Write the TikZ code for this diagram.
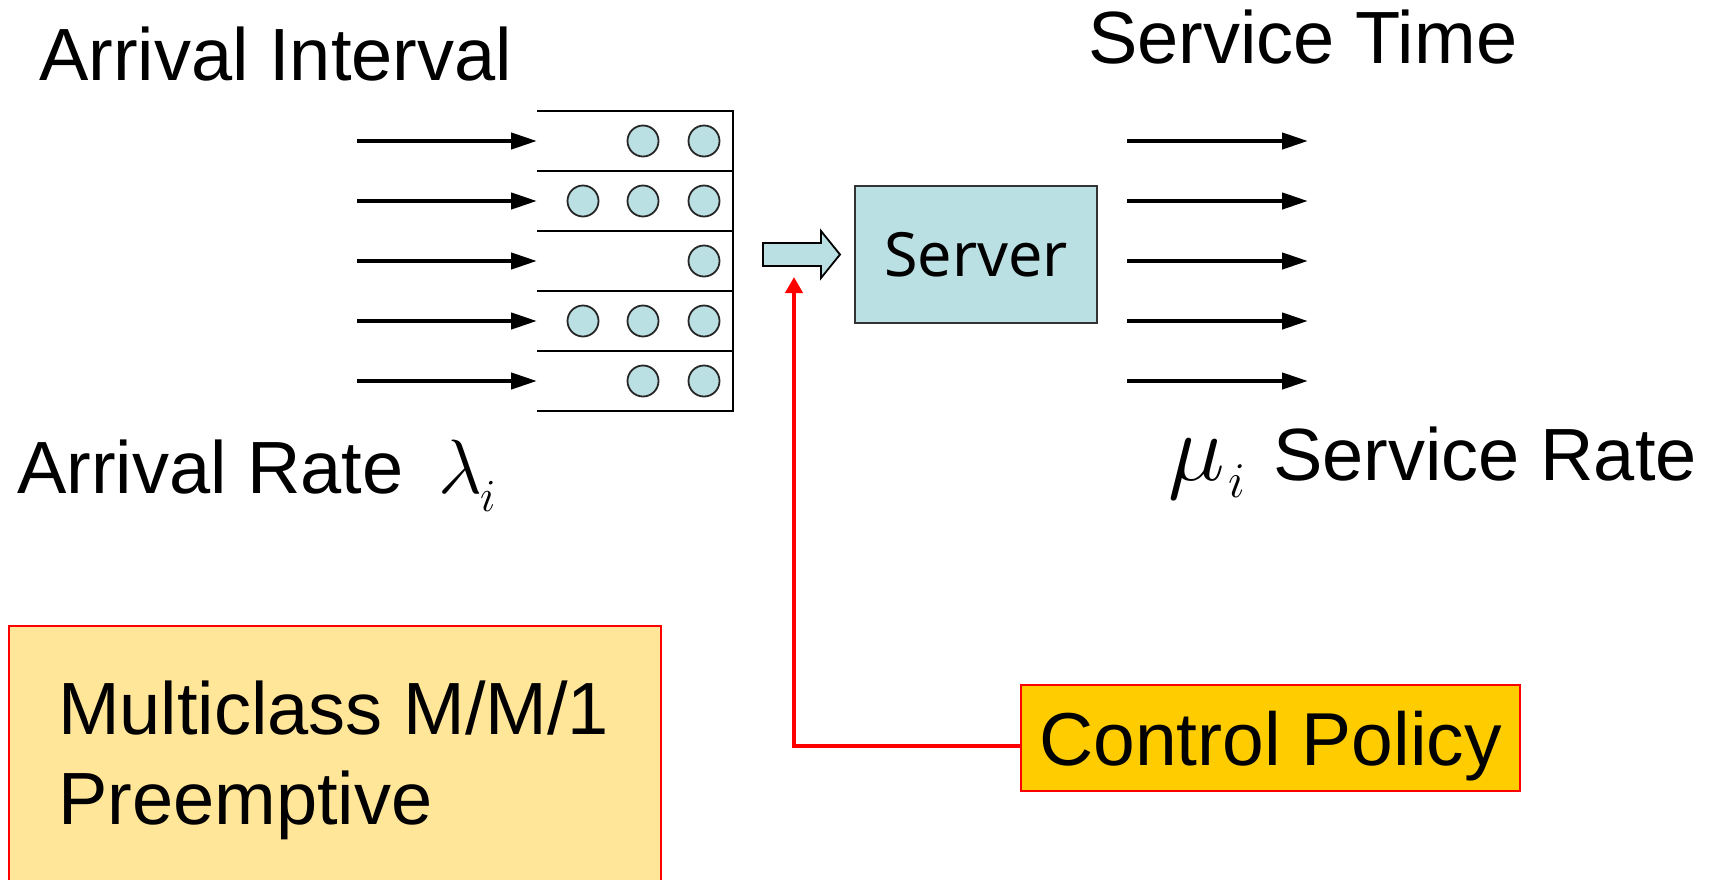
\RequirePackage{fix-cm}
\documentclass[tikz,border=0pt]{standalone}
\usepackage{fontspec}
\setmainfont{Liberation Sans}
\newfontfamily\srvfont{Noto Sans}
\usetikzlibrary{arrows.meta}
\definecolor{qblue}{HTML}{BBE0E3}
\definecolor{mcyellow}{HTML}{FFE699}
\definecolor{cpyellow}{HTML}{FFCC00}
\definecolor{pred}{HTML}{FF0000}
\begin{document}
\begin{tikzpicture}[x=1pt,y=-1pt,
  lbl/.style={inner sep=0pt, anchor=base west, font=\fontsize{74}{80}\selectfont},
  greek/.style={inner sep=0pt, anchor=base west, font=\fontsize{#1}{#1}\selectfont},
  flow/.style={line width=4.3pt, -{Triangle[length=26pt,width=16pt]}},
  qline/.style={line width=2.4pt},
  job/.style={circle, draw=black!85, line width=1.8pt, fill=qblue, minimum size=31pt, inner sep=0pt},
]
\useasboundingbox (0,0) rectangle (1715,879);
% texts
\node[lbl] (ai) at (39,80) {Arrival Interval};
\node[lbl] (st) at (1088,63) {Service Time};
\node[lbl] (ar) at (17,493) {Arrival Rate};
\node[greek=77] (lam) at (438,493) {$\lambda$};
\node[greek=46] (lami) at (480,511) {$i$};
\node[greek=96] (mu) at (1168,480) {$\mu$};
\node[greek=50] (mui) at (1228,497) {$i$};
\node[lbl] (sr) at (1273,480) {Service Rate};
% queue
\draw[qline] (537,111) -- (733,111) -- (733,411) -- (537,411);
\foreach \y in {171,231,291,351} { \draw[qline] (537,\y) -- (733,\y); }
\foreach \i/\y in {1/141,2/201,3/261,4/321,5/381} {
  \coordinate (s\i) at (357,\y);
  \coordinate (q\i) at (537,\y);
  \draw[flow] (s\i) -- (q\i);
  \coordinate (o\i) at (1127,\y);
  \coordinate (e\i) at (1308,\y);
  \draw[flow] (o\i) -- (e\i);
}
% jobs
\node[job] (j12) at (643,141) {};
\node[job] (j13) at (704,141) {};
\node[job] (j21) at (583,201) {};
\node[job] (j22) at (643,201) {};
\node[job] (j23) at (704,201) {};
\node[job] (j33) at (704,261) {};
\node[job] (j41) at (583,321) {};
\node[job] (j42) at (643,321) {};
\node[job] (j43) at (704,321) {};
\node[job] (j52) at (643,381) {};
\node[job] (j53) at (704,381) {};
% block arrow
\path[draw=black, line width=1.8pt, fill=qblue, line join=miter]
  (763,243) -- (821,243) -- (821,231) -- (840,254.5) -- (821,278) -- (821,266) -- (763,266) -- cycle;
% server
\node[draw=black!80, line width=2pt, fill=qblue, minimum width=242pt, minimum height=137pt,
  inner sep=0pt, text depth=0pt, font=\srvfont\fontsize{61}{61}\selectfont] (srv) at (976,254.5) {Server};
% control policy
\node[draw=pred, line width=2pt, fill=cpyellow, minimum width=499pt, minimum height=106pt,
  inner sep=0pt, text depth=0pt, font=\fontsize{75}{75}\selectfont] (cp) at (1270.5,738) {Control Policy};
\coordinate (rtip) at (794,277);
\draw[pred, line width=4pt, -{Triangle[length=16pt,width=17pt]}] ([yshift=-8pt]cp.west) -| (rtip);
% multiclass box
\node[draw=pred, line width=2pt, fill=mcyellow, minimum width=652pt, minimum height=270pt,
  inner sep=0pt, anchor=north west] (mc) at (8,625) {};
\node[lbl] (mct1) at (58,734) {Multiclass M/M/1};
\node[lbl] (mct2) at (58,824) {Preemptive};
\end{tikzpicture}
\end{document}
